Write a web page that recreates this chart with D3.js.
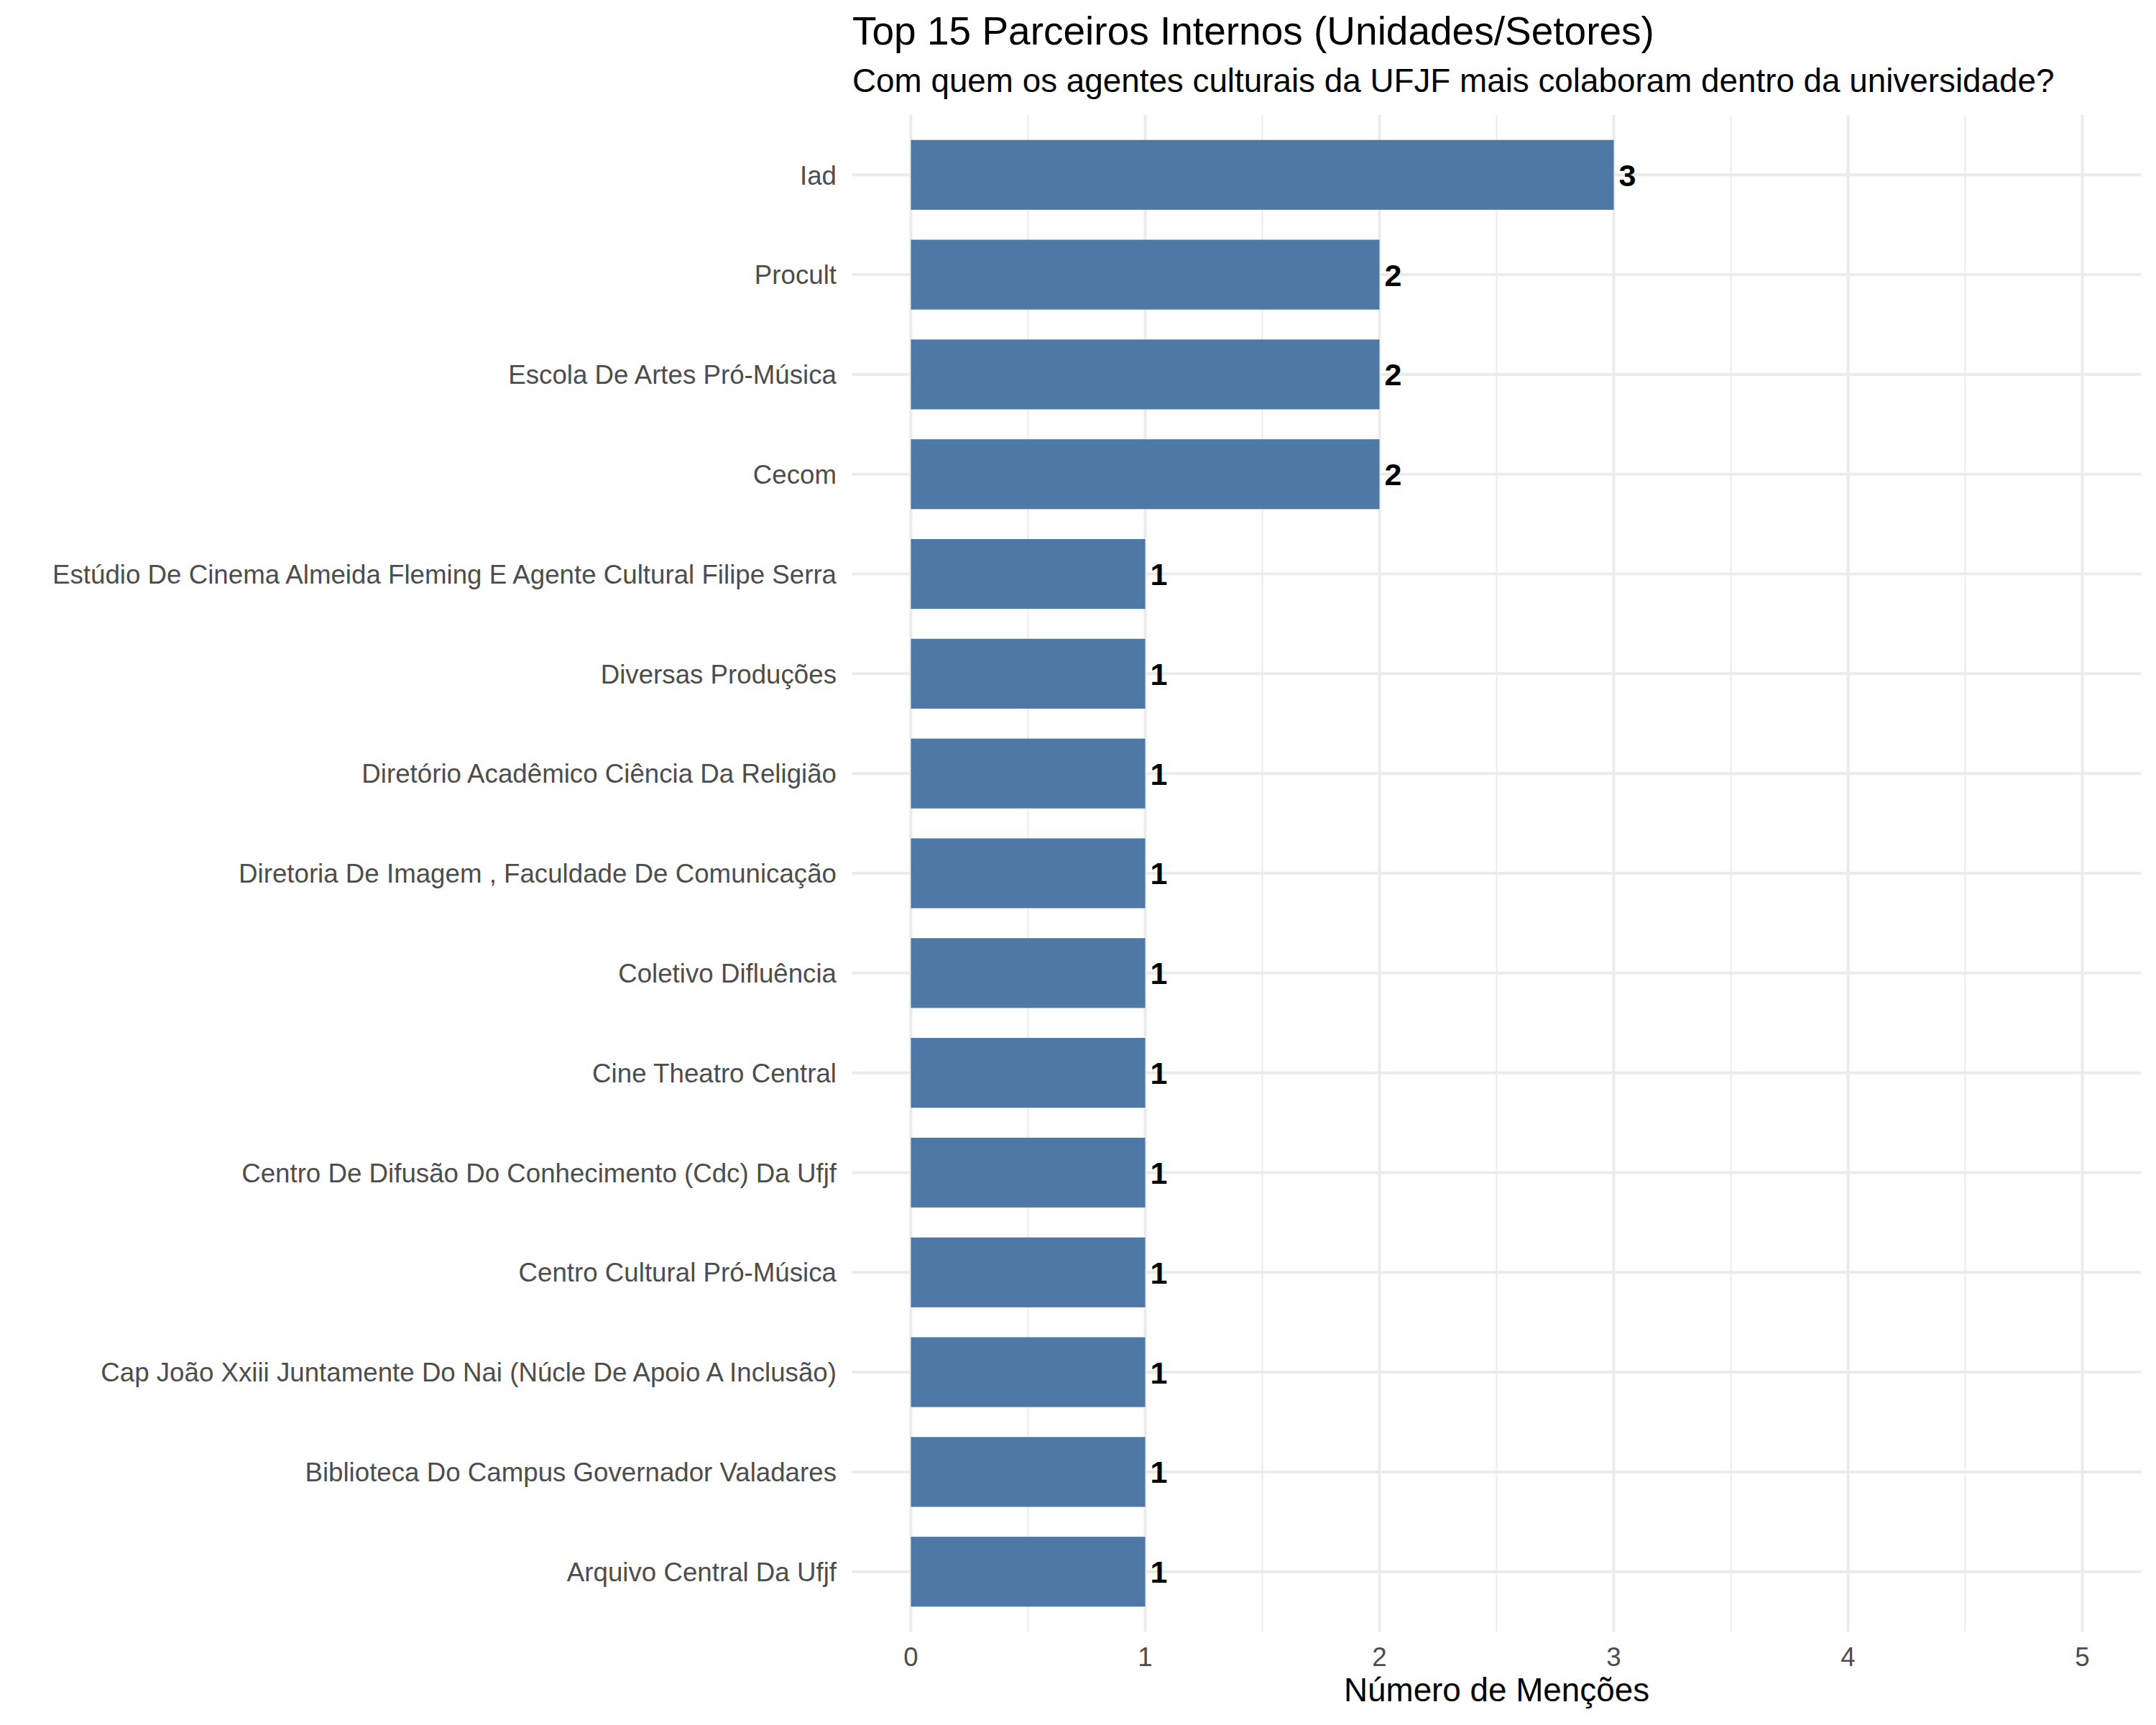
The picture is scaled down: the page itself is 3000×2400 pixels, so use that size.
<!DOCTYPE html>
<html lang="pt">
<head>
<meta charset="utf-8">
<title>Top 15 Parceiros Internos</title>
<script src="https://cdn.jsdelivr.net/npm/d3@7"></script>
<style>
  html, body { margin: 0; padding: 0; background: white; }
  text { font-family: "Liberation Sans", Arial, sans-serif; }
</style>
</head>
<body>
<script>
// Data (top to bottom as drawn)
var parceiros = [
  "Iad",
  "Procult",
  "Escola De Artes Pró-Música",
  "Cecom",
  "Estúdio De Cinema Almeida Fleming E Agente Cultural Filipe Serra",
  "Diversas Produções",
  "Diretório Acadêmico Ciência Da Religião",
  "Diretoria De Imagem , Faculdade De Comunicação",
  "Coletivo Difluência",
  "Cine Theatro Central",
  "Centro De Difusão Do Conhecimento (Cdc) Da Ufjf",
  "Centro Cultural Pró-Música",
  "Cap João Xxiii Juntamente Do Nai (Núcle De Apoio A Inclusão)",
  "Biblioteca Do Campus Governador Valadares",
  "Arquivo Central Da Ufjf"
];
var mencoes = [3, 2, 2, 2, 1, 1, 1, 1, 1, 1, 1, 1, 1, 1, 1];
var xTicks = [0, 1, 2, 3, 4, 5];
var xMinor = [0.5, 1.5, 2.5, 3.5, 4.5];

var titulo = "Top 15 Parceiros Internos (Unidades/Setores)";
var subtitulo = "Com quem os agentes culturais da UFJF mais colaboram dentro da universidade?";
var eixoX = "Número de Menções";

//Width and height
var w = 3000;
var h = 2400;
var pLeft = 1186, pRight = 2979, pTop = 160, pBottom = 2270;

var svg = d3.select("body")
            .append("svg")
            .attr("width", w)
            .attr("height", h);

svg.append("rect").attr("width", w).attr("height", h).attr("fill", "white");

// x scale with 5% expansion like ggplot
var x = d3.scaleLinear()
          .domain([-0.25, 5.25])
          .range([pLeft, pRight]);

// y band: bar width 0.7, 0.6 step expansion at each end
var y = d3.scaleBand()
          .domain(parceiros)
          .range([pTop, pBottom])
          .paddingInner(0.3)
          .paddingOuter(0.25)
          .align(0.5);

var yc = function(d) { return y(d) + y.bandwidth() / 2; };

// minor gridlines
svg.selectAll("line.minor")
   .data(xMinor)
   .enter()
   .append("line")
   .attr("class", "minor")
   .attr("x1", function(d) { return x(d); })
   .attr("x2", function(d) { return x(d); })
   .attr("y1", pTop)
   .attr("y2", pBottom)
   .attr("stroke", "#ebebeb")
   .attr("stroke-width", 2);

// major vertical gridlines
svg.selectAll("line.majorx")
   .data(xTicks)
   .enter()
   .append("line")
   .attr("class", "majorx")
   .attr("x1", function(d) { return x(d); })
   .attr("x2", function(d) { return x(d); })
   .attr("y1", pTop)
   .attr("y2", pBottom)
   .attr("stroke", "#ebebeb")
   .attr("stroke-width", 4);

// major horizontal gridlines
svg.selectAll("line.majory")
   .data(parceiros)
   .enter()
   .append("line")
   .attr("class", "majory")
   .attr("x1", pLeft)
   .attr("x2", pRight)
   .attr("y1", yc)
   .attr("y2", yc)
   .attr("stroke", "#ebebeb")
   .attr("stroke-width", 4);

// bars
svg.selectAll("rect.bar")
   .data(parceiros)
   .enter()
   .append("rect")
   .attr("class", "bar")
   .attr("x", x(0))
   .attr("y", function(d) { return y(d); })
   .attr("width", function(d, i) { return x(mencoes[i]) - x(0); })
   .attr("height", y.bandwidth())
   .attr("fill", "#4e79a7");

// value labels
svg.selectAll("text.val")
   .data(parceiros)
   .enter()
   .append("text")
   .attr("class", "val")
   .attr("x", function(d, i) { return x(mencoes[i]) + 7; })
   .attr("y", yc)
   .attr("dy", "0.36em")
   .attr("font-size", "43px")
   .attr("font-weight", "bold")
   .attr("fill", "black")
   .text(function(d, i) { return mencoes[i]; });

// y axis labels
svg.selectAll("text.ylab")
   .data(parceiros)
   .enter()
   .append("text")
   .attr("class", "ylab")
   .attr("x", pLeft - 22)
   .attr("y", yc)
   .attr("dy", "0.36em")
   .attr("text-anchor", "end")
   .attr("font-size", "36.7px")
   .attr("fill", "#4d4d4d")
   .text(function(d) { return d; });

// x axis tick labels
svg.selectAll("text.xlab")
   .data(xTicks)
   .enter()
   .append("text")
   .attr("class", "xlab")
   .attr("x", function(d) { return x(d); })
   .attr("y", 2318)
   .attr("text-anchor", "middle")
   .attr("font-size", "36.7px")
   .attr("fill", "#4d4d4d")
   .text(function(d) { return d; });

// axis title
svg.append("text")
   .attr("x", (pLeft + pRight) / 2)
   .attr("y", 2367)
   .attr("text-anchor", "middle")
   .attr("font-size", "45.8px")
   .attr("fill", "black")
   .text(eixoX);

// title and subtitle
svg.append("text")
   .attr("x", pLeft)
   .attr("y", 62)
   .attr("font-size", "55px")
   .attr("fill", "black")
   .text(titulo);

svg.append("text")
   .attr("x", pLeft)
   .attr("y", 128)
   .attr("font-size", "45.8px")
   .attr("fill", "black")
   .text(subtitulo);
</script>
</body>
</html>
